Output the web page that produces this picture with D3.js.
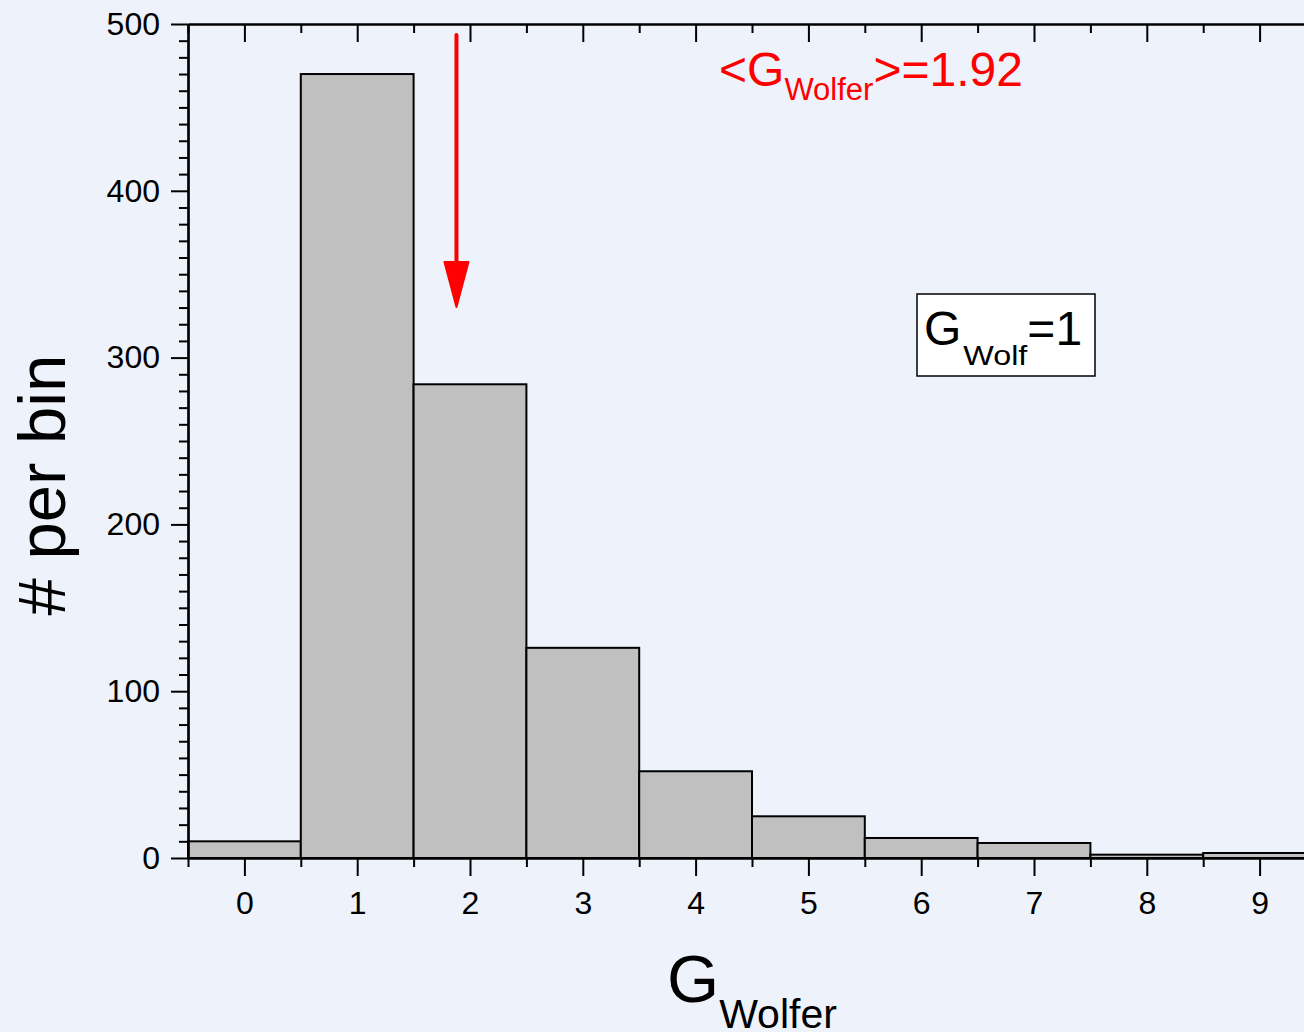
<!DOCTYPE html>
<html>
<head>
<meta charset="utf-8">
<script src="https://cdn.jsdelivr.net/npm/d3@7"></script>
<style>
  html, body { margin: 0; padding: 0; background: #eef2fb; }
  svg { display: block; font-family: Arial, "Liberation Sans", sans-serif; }
</style>
</head>
<body>
<svg id="chart" width="1304" height="1032"></svg>
<script>
// histogram data
var bins = [0, 1, 2, 3, 4, 5, 6, 7, 8, 9];
var counts = [10, 470, 284, 126, 52, 25, 12, 9, 2, 3];
var yMajor = [0, 100, 200, 300, 400, 500];
var meanArrowX = 1.88;   // where the arrow sits (labelled <G>=1.92)

var svg = d3.select("#chart");
var mLeft = 188, mRight = 1316, mTop = 24, mBottom = 858;

var x = d3.scaleLinear().domain([-0.5, 9.5]).range([mLeft, mRight]);
var y = d3.scaleLinear().domain([0, 500]).range([mBottom, mTop]);

var yMinor = d3.range(0, 501, 10).filter(v => v % 100 !== 0);
var xMinor = d3.range(-0.5, 9.6, 1);

// bars
svg.append("g").selectAll("rect")
  .data(bins)
  .join("rect")
  .attr("x", (d) => x(d - 0.5))
  .attr("width", (d) => x(d + 0.5) - x(d - 0.5))
  .attr("y", (d, i) => y(counts[i]))
  .attr("height", (d, i) => y(0) - y(counts[i]))
  .attr("fill", "#c0c0c0")
  .attr("stroke", "#000")
  .attr("stroke-width", 2);

function styleAxis(g) {
  g.selectAll("path, line").attr("stroke", "#000").attr("stroke-width", 2);
  g.select(".domain").attr("stroke-width", 2.2);
}

// minor ticks first, majors on top
svg.append("g").attr("transform", `translate(${mLeft},0)`)
  .call(d3.axisLeft(y).tickValues(yMinor).tickSize(9).tickFormat("").tickSizeOuter(0))
  .call(styleAxis);
var yAx = svg.append("g").attr("transform", `translate(${mLeft},0)`)
  .call(d3.axisLeft(y).tickValues(yMajor).tickSize(17).tickPadding(11).tickSizeOuter(0))
  .call(styleAxis);
yAx.attr("font-family", null).attr("font-size", 32);
yAx.selectAll("text").attr("fill", "#000");

svg.append("g").attr("transform", `translate(${mRight},0)`)
  .call(d3.axisLeft(y).tickValues(yMinor).tickSize(-9).tickFormat("").tickSizeOuter(0))
  .call(styleAxis);
svg.append("g").attr("transform", `translate(${mRight},0)`)
  .call(d3.axisLeft(y).tickValues(yMajor).tickSize(-17).tickFormat("").tickSizeOuter(0))
  .call(styleAxis);

svg.append("g").attr("transform", `translate(0,${mBottom})`)
  .call(d3.axisBottom(x).tickValues(xMinor).tickSize(9).tickFormat("").tickSizeOuter(0))
  .call(styleAxis);
var xAx = svg.append("g").attr("transform", `translate(0,${mBottom})`)
  .call(d3.axisBottom(x).tickValues(bins).tickSize(18).tickPadding(15).tickSizeOuter(0))
  .call(styleAxis);
xAx.attr("font-family", null).attr("font-size", 32);
xAx.selectAll("text").attr("fill", "#000");

svg.append("g").attr("transform", `translate(0,${mTop})`)
  .call(d3.axisBottom(x).tickValues(xMinor).tickSize(9).tickFormat("").tickSizeOuter(0))
  .call(styleAxis);
svg.append("g").attr("transform", `translate(0,${mTop})`)
  .call(d3.axisBottom(x).tickValues(bins).tickSize(18).tickFormat("").tickSizeOuter(0))
  .call(styleAxis);

// axis titles
svg.append("text")
  .attr("transform", "translate(65,485) rotate(-90)")
  .attr("text-anchor", "middle")
  .attr("font-size", 67)
  .text("# per bin");

var xt = svg.append("text").attr("x", 667).attr("y", 1002).attr("font-size", 67);
xt.append("tspan").text("G");
xt.append("tspan").attr("font-size", 41).attr("dx", 0).attr("dy", 26).text("Wolfer");

// mean annotation
var mt = svg.append("text").attr("x", 719).attr("y", 86).attr("font-size", 48).attr("fill", "#ff0000");
mt.append("tspan").text("<G");
mt.append("tspan").attr("font-size", 31).attr("dy", 14).text("Wolfer");
mt.append("tspan").attr("dy", -14).text(">=1.92");

var ax = x(meanArrowX);
svg.append("line")
  .attr("x1", ax).attr("x2", ax).attr("y1", 35).attr("y2", 268)
  .attr("stroke", "#ff0000").attr("stroke-width", 4).attr("stroke-linecap", "round");
svg.append("path")
  .attr("d", `M${ax - 12},262 L${ax + 12},262 L${ax},307 Z`)
  .attr("fill", "#ff0000").attr("stroke", "#ff0000").attr("stroke-width", 2).attr("stroke-linejoin", "round");

// G_Wolf = 1 box
svg.append("rect")
  .attr("x", 917).attr("y", 294).attr("width", 178).attr("height", 82)
  .attr("fill", "#fff").attr("stroke", "#000").attr("stroke-width", 1.5);
var bt = svg.append("text").attr("x", 924).attr("y", 345).attr("font-size", 48);
bt.append("tspan").text("G");
bt.append("tspan").attr("font-size", 27).attr("dx", 2).attr("dy", 20)
  .attr("textLength", 64).attr("lengthAdjust", "spacingAndGlyphs").text("Wolf");
bt.append("tspan").attr("dy", -20).text("=1");
</script>
</body>
</html>
